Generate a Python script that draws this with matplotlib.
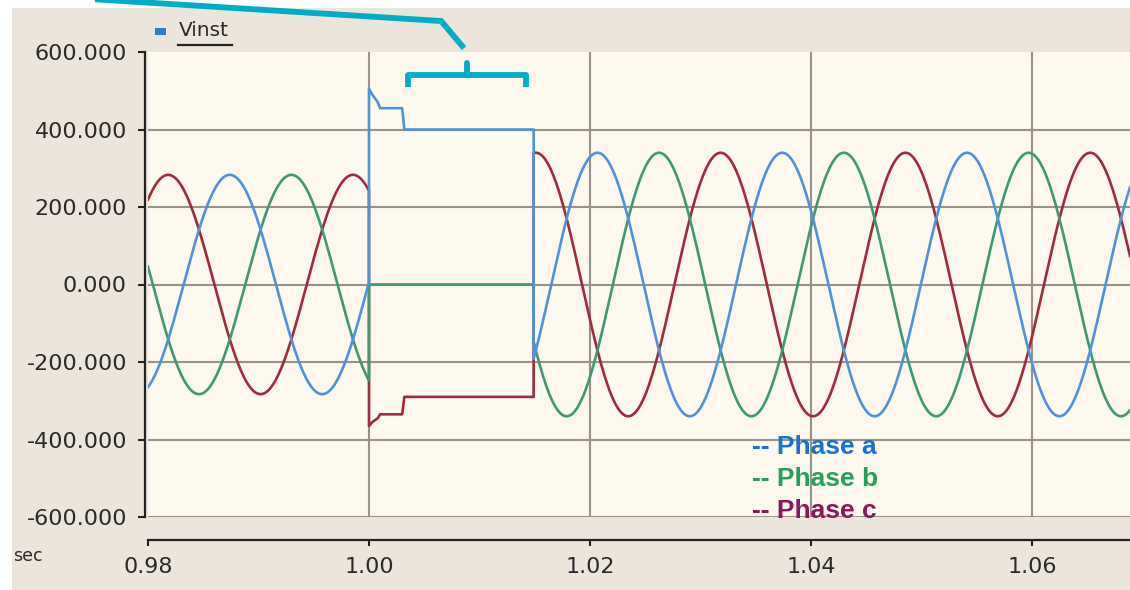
import numpy as np
import matplotlib.pyplot as plt
from matplotlib.ticker import FuncFormatter
from matplotlib.patches import Rectangle

# time window (s) and fault interval
t_start, t_end = 0.98, 1.06887
fault_on, fault_off = 1.0, 1.0149
freq = 59.8

# sine parameters per interval: amplitude (V) and time of the phase c peak (s)
amp_pre, amp_post = 283.0, 340.0
peak_c_pre, peak_c_post = 0.99855, 1.0151

# phase lag behind phase c, in cycles
phase_names = ['Phase a', 'Phase b', 'Phase c']
lag_cycles = [1 / 3, 2 / 3, 0.0]

# stepped values while the fault is on
fault_t = [1.0000, 1.0003, 1.0008, 1.0010, 1.0030, 1.0032, 1.0149]
fault_vals = [
    [505, 490, 470, 455, 455, 400, 400],          # a
    [0, 0, 0, 0, 0, 0, 0],                        # b
    [-365, -355, -345, -335, -335, -290, -290],   # c
]

x_ticks = [0.98, 1.00, 1.02, 1.04, 1.06]
y_ticks = [-600, -400, -200, 0, 200, 400, 600]

line_colors = ['#4f94d8', '#3f9a74', '#9e2c3a']
text_colors = ['#1a73c8', '#22a05c', '#8a1660']
cream = '#fdf9ee'
beige = '#ece5dc'
grid_col = '#99938c'
cyan = '#00adc6'

W, H = 1130, 590
fig = plt.figure(figsize=(W / 100, H / 100), dpi=100, facecolor='white')
fig.add_artist(Rectangle((12 / W, 0), 1, (H - 8) / H, transform=fig.transFigure,
                         facecolor=beige, edgecolor='none', zorder=-10))

ax = fig.add_axes([148 / W, 73 / H, 1 - 148 / W, 465 / H])
ax.set_facecolor(cream)
ax.set_xlim(t_start, t_end)
ax.set_ylim(-600, 600)


def wave(t, amp, peak_c, lag):
    return amp * np.cos(2 * np.pi * freq * (t - peak_c - lag / freq))


t_pre = np.linspace(t_start, fault_on, 400)
t_post = np.linspace(fault_off, t_end, 1200)
for k in range(3):
    t = np.concatenate([t_pre, fault_t, t_post])
    v = np.concatenate([wave(t_pre, amp_pre, peak_c_pre, lag_cycles[k]),
                        fault_vals[k],
                        wave(t_post, amp_post, peak_c_post, lag_cycles[k])])
    ax.plot(t, v, color=line_colors[k], lw=1.9, zorder=3 + (2 - k) * 0.1)

# grid
for x in x_ticks[1:]:
    ax.axvline(x, color=grid_col, lw=1.5, zorder=1)
for y in y_ticks[:-1]:
    ax.axhline(y, color=grid_col, lw=1.5, zorder=1)

# axes
for s in ['top', 'right']:
    ax.spines[s].set_visible(False)
ax.spines['left'].set_position(('outward', 2.2))
ax.spines['bottom'].set_position(('outward', 16.5))
ax.spines['left'].set_bounds(-600, 600)
ax.spines['bottom'].set_bounds(t_start, t_end)
for s in ['left', 'bottom']:
    ax.spines[s].set_color('#222222')
    ax.spines[s].set_linewidth(1.6)

ax.set_xticks(x_ticks)
ax.set_xticklabels([f'{x:.2f}' for x in x_ticks])
ax.set_yticks(y_ticks)
ax.yaxis.set_major_formatter(FuncFormatter(lambda v, p: f'{v:.3f}'))
ax.tick_params(axis='both', colors='#222222', labelcolor='#2a2a2a',
               labelsize=16, width=1.5)
ax.tick_params(axis='y', length=5, pad=8)
ax.tick_params(axis='x', length=4, pad=8.5)

fig.text(13 / W, 1 - 556 / H, 'sec', fontsize=12.5, color='#2a2a2a',
         ha='left', va='center')

# series legend
fig.text(179 / W, 1 - 31 / H, 'Vinst', fontsize=14.5, color='#2a2a2a',
         ha='left', va='center')
fig.add_artist(plt.Line2D([178 / W, 232 / W], [1 - 45 / H, 1 - 45 / H],
                          transform=fig.transFigure, color='#222222', lw=1.6))
fig.add_artist(Rectangle((155 / W, 1 - 35 / H), 11 / W, 7 / H,
                         transform=fig.transFigure, facecolor='#2f7bd0',
                         edgecolor='none'))

# phase labels
for k, name in enumerate(phase_names):
    ax.text(1.0347, -419 - 83 * k, '-- ' + name, color=text_colors[k],
            fontsize=19, fontweight='bold', family='Liberation Sans',
            ha='left', va='center', zorder=6)

# callout over the fault interval
ax.plot([0.9752, 1.00652, 1.0086], [736, 680, 610], color=cyan, lw=4.2,
        clip_on=False, solid_joinstyle='miter', solid_capstyle='butt', zorder=7)
ax.plot([1.00353, 1.00353, 1.01421, 1.01421], [509, 540, 540, 509], color=cyan,
        lw=4.2, clip_on=False, solid_joinstyle='round', solid_capstyle='butt', zorder=7)
ax.plot([1.00887, 1.00887], [540, 572], color=cyan, lw=4.2, clip_on=False,
        solid_capstyle='round', zorder=7)

fig.savefig('out.png', dpi=100, facecolor='white')
